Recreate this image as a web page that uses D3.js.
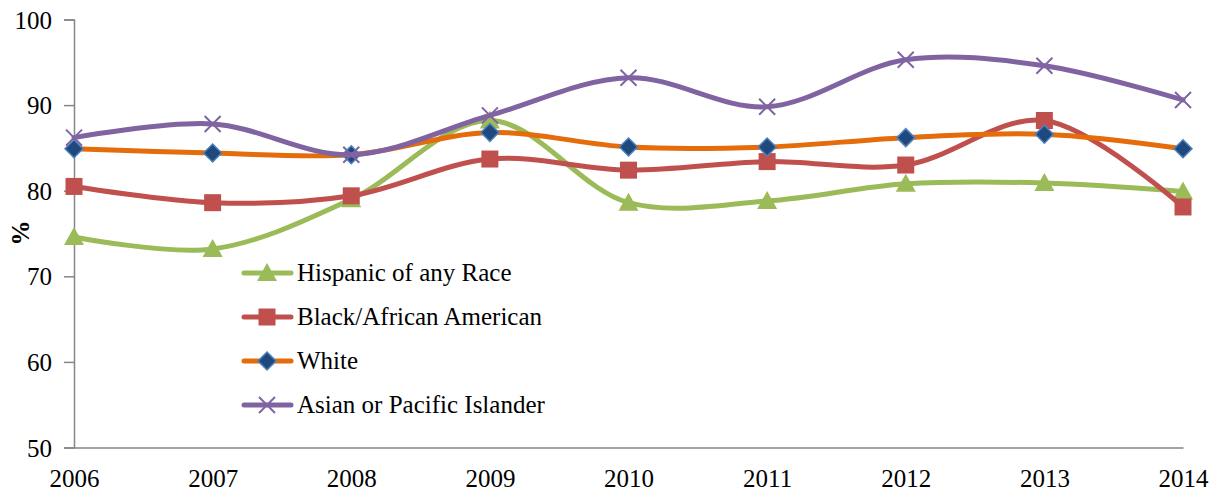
<!DOCTYPE html>
<html><head><meta charset="utf-8">
<script src="https://cdn.jsdelivr.net/npm/d3@7"></script>
</head><body style="margin:0">
<script>
const years = [2006,2007,2008,2009,2010,2011,2012,2013,2014];
const hispanic = [74.6,73.2,79.0,88.2,78.6,78.8,80.8,80.9,79.9];
const black = [80.5,78.6,79.4,83.7,82.4,83.4,83.0,88.2,78.1];
const white = [84.9,84.4,84.2,86.8,85.1,85.1,86.2,86.6,84.9];
const asian = [86.2,87.8,84.2,88.8,93.2,89.8,95.3,94.6,90.6];
const yTicks = [50,60,70,80,90,100];
const seriesNames = ["Hispanic of any Race","Black/African American","White","Asian or Pacific Islander"];

const W=1219,H=496;
const svg=d3.select("body").append("svg").attr("width",W).attr("height",H)
 .style("font-family","\"Liberation Serif\", \"Times New Roman\", serif","important");
const x=d3.scaleLinear().domain([2006,2014]).range([74,1183]);
const y=d3.scaleLinear().domain([50,100]).range([447.5,19.5]);

function serif(sel){
 return sel.attr("font-family","Liberation Serif")
  .style("font-family","\"Liberation Serif\", \"Times New Roman\", serif","important");
}

// axes
const yAx=svg.append("g").attr("transform","translate(74,0)")
 .call(d3.axisLeft(y).tickValues(yTicks).tickSize(10).tickPadding(12).tickFormat(d3.format("d")));
serif(yAx).attr("font-size",25);
yAx.select(".domain").attr("stroke","#868686").attr("stroke-width",1.5);
yAx.selectAll(".tick line").attr("stroke","#868686").attr("stroke-width",1.5);
serif(yAx.selectAll("text")).style("font-size","25px").attr("fill","#000").attr("dy","0.34em");

const xAx=svg.append("g").attr("transform","translate(0,447.5)")
 .call(d3.axisBottom(x).tickValues(years).tickSize(0).tickPadding(22).tickFormat(d3.format("d")));
serif(xAx).attr("font-size",25);
xAx.select(".domain").attr("stroke","#868686").attr("stroke-width",1.5);
serif(xAx.selectAll("text")).style("font-size","25px").attr("fill","#000");

serif(svg.append("text").attr("transform","translate(29,233) rotate(-90)").attr("text-anchor","middle"))
 .style("font-size","25px").style("font-weight","bold").text("%");

const series=[
 {name:seriesNames[0],vals:hispanic,color:"#9BBB59",marker:"tri"},
 {name:seriesNames[1],vals:black,color:"#C0504D",marker:"sq"},
 {name:seriesNames[2],vals:white,color:"#E46C0A",marker:"dia"},
 {name:seriesNames[3],vals:asian,color:"#8064A2",marker:"x"}
];
const line=d3.line().x((d,i)=>x(years[i])).y(d=>y(d)).curve(d3.curveCatmullRom.alpha(0.5));

function marker(g,type,cx,cy,color){
 if(type==="tri"){
  g.append("path").attr("d",`M${cx},${cy-10}L${cx+10},${cy+8}L${cx-10},${cy+8}Z`).attr("fill",color);
 } else if(type==="sq"){
  g.append("rect").attr("x",cx-8.5).attr("y",cy-8.5).attr("width",17).attr("height",17).attr("fill",color);
 } else if(type==="dia"){
  g.append("path").attr("d",`M${cx},${cy-9}L${cx+9},${cy}L${cx},${cy+9}L${cx-9},${cy}Z`)
   .attr("fill","#1F497D").attr("stroke","#4F81BD").attr("stroke-width",1.5);
 } else {
  g.append("path").attr("d",`M${cx-8},${cy-8}L${cx+8},${cy+8}M${cx-8},${cy+8}L${cx+8},${cy-8}`)
   .attr("stroke",color).attr("stroke-width",2).attr("fill","none");
 }
}

series.forEach(s=>{
 const g=svg.append("g");
 g.append("path").datum(s.vals).attr("d",line).attr("fill","none").attr("stroke",s.color)
  .attr("stroke-width",5).attr("stroke-linecap","round");
 s.vals.forEach((v,i)=>marker(g,s.marker,x(years[i]),y(v),s.color));
});

// legend
const legY=[273,317,361,405];
series.forEach((s,i)=>{
 const g=svg.append("g");
 g.append("line").attr("x1",244).attr("x2",291).attr("y1",legY[i]).attr("y2",legY[i])
  .attr("stroke",s.color).attr("stroke-width",5).attr("stroke-linecap","round");
 marker(g,s.marker,267,legY[i],s.color);
 serif(g.append("text").attr("x",297).attr("y",legY[i]).attr("dy","0.33em"))
  .style("font-size","25px").text(s.name);
});
</script>
</body></html>
